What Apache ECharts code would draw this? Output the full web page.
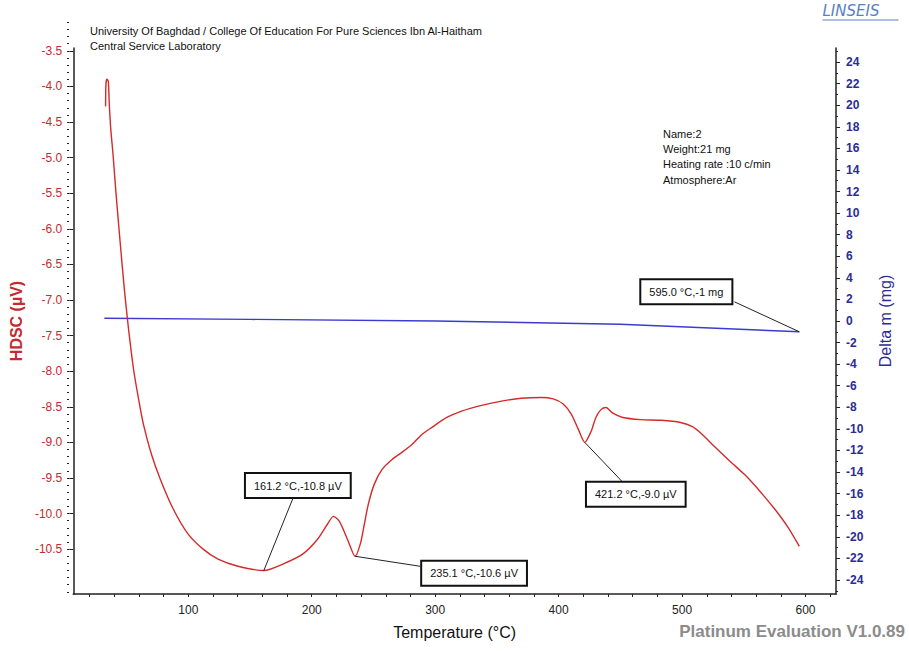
<!DOCTYPE html>
<html>
<head>
<meta charset="utf-8">
<script src="https://cdn.jsdelivr.net/npm/echarts@6/dist/echarts.min.js"></script>
<style>
  html, body { margin: 0; padding: 0; background: #ffffff; }
  #chart { width: 909px; height: 651px; }
</style>
</head>
<body>
<div id="chart"></div>
<script>
// HDSC signal (µV) against temperature (°C)
const hdscTemp = [
  33.0, 33.3, 34.2, 35.2, 36.0, 37.2, 39.0, 41.2, 44.6, 48.2, 51.6, 55.7, 59.7, 63.7,
  70.2, 77.4, 87.9, 99.9, 112.0, 124.1, 140.2, 161.2, 176.5, 192.6, 204.7, 212.7,
  217.6, 222.4, 228.9, 235.1, 239.3, 242.6, 245.8, 250.6, 257.0, 265.1, 273.1, 281.2,
  289.2, 297.3, 309.4, 321.5, 337.6, 353.7, 369.8, 386.0, 395.6, 403.7, 410.1, 415.8,
  421.2, 426.2, 430.2, 434.3, 438.3, 443.9, 452.0, 466.5, 482.6, 498.7, 508.4, 516.4,
  526.9, 539.0, 551.1, 563.2, 575.2, 585.7, 595.0
];
const hdscValue = [
  -4.28, -3.96, -3.90, -3.93, -4.25, -4.60, -4.95, -5.45, -6.15, -6.85, -7.41, -7.98, -8.39, -8.75,
  -9.17, -9.52, -9.94, -10.29, -10.50, -10.64, -10.74, -10.80, -10.71, -10.57, -10.36, -10.15,
  -10.04, -10.11, -10.36, -10.60, -10.43, -10.15, -9.87, -9.59, -9.38, -9.24, -9.14, -9.03,
  -8.89, -8.79, -8.65, -8.56, -8.48, -8.42, -8.38, -8.37, -8.39, -8.46, -8.60, -8.81,
  -9.00, -8.85, -8.65, -8.54, -8.51, -8.59, -8.65, -8.68, -8.69, -8.72, -8.78, -8.89,
  -9.07, -9.27, -9.46, -9.69, -9.94, -10.19, -10.46
];

// Mass change (mg) against temperature (°C)
const massTemp = [32.0, 150.0, 300.0, 450.0, 595.0];
const massValue = [0.25, 0.15, 0.0, -0.3, -1.0];

// Evaluated points on the HDSC curve
const peakTemp = [161.2, 235.1, 421.2];
const peakValue = [-10.8, -10.6, -9.0];
const peakText = ['161.2 °C,-10.8 µV', '235.1 °C,-10.6 µV', '421.2 °C,-9.0 µV'];

// Evaluated point on the mass curve
const massPointTemp = [595.0];
const massPointValue = [-1];
const massPointText = ['595.0 °C,-1 mg'];

// Axis tick labels
const tempTicks = [100, 200, 300, 400, 500, 600];
const hdscTicks = [-3.5, -4.0, -4.5, -5.0, -5.5, -6.0, -6.5, -7.0, -7.5, -8.0, -8.5, -9.0, -9.5, -10.0, -10.5];
const massTicks = [24, 22, 20, 18, 16, 14, 12, 10, 8, 6, 4, 2, 0, -2, -4, -6, -8, -10, -12, -14, -16, -18, -20, -22, -24];

// Sample information block
const infoLines = ['Name:2', 'Weight:21 mg', 'Heating rate :10 c/min', 'Atmosphere:Ar'];
const headerLines = [
  'University Of Baghdad / College Of Education For Pure Sciences Ibn Al-Haitham',
  'Central Service Laboratory'
];

// ---- layout and styling ----
const RED = '#d42a2a';
const RED_TEXT = '#c42a2e';
const BLUE = '#3b3bd0';
const BLUE_TEXT = '#2c2c95';
const FONT = '"Liberation Sans", Arial, sans-serif';

const X_MIN = 6.8, X_MAX = 624.7;
const L_MIN = -11.13, L_MAX = -3.46;
const R_MIN = -25.3, R_MAX = 25.3;

function steps(from, to, step) {
  const out = [];
  const n = Math.round((to - from) / step);
  for (let i = 0; i <= n; i++) out.push(+(from + i * step).toFixed(3));
  return out;
}

// offsets (px) of each callout box centre and leader end from its point
const peakLayout = [
  { bx: 34, by: -85, lx: 29, ly: -72 },
  { bx: 119, by: 17, lx: 65, ly: 10 },
  { bx: 51, by: 52, lx: 40, ly: 42 }
];
const massLayout = [
  { bx: -113, by: -40, lx: -65, ly: -30 }
];

function calloutSeries(yAxisIndex, temps, values, texts, layout) {
  return {
    type: 'custom',
    xAxisIndex: 0,
    yAxisIndex: yAxisIndex,
    z: 20,
    silent: true,
    clip: false,
    data: temps.map((t, i) => [t, values[i], i]),
    renderItem: function (params, api) {
      const i = api.value(2);
      const p = api.coord([api.value(0), api.value(1)]);
      const L = layout[i];
      return {
        type: 'group',
        children: [
          {
            type: 'line',
            shape: { x1: p[0], y1: p[1], x2: p[0] + L.lx, y2: p[1] + L.ly },
            style: { stroke: '#222', lineWidth: 1 }
          },
          {
            type: 'text',
            x: p[0] + L.bx,
            y: p[1] + L.by,
            style: {
              text: texts[i],
              font: '11px ' + FONT,
              fill: '#111',
              align: 'center',
              verticalAlign: 'middle',
              backgroundColor: '#ffffff',
              borderColor: '#111111',
              borderWidth: 2,
              padding: [6, 8, 6, 8]
            }
          }
        ]
      };
    }
  };
}

const chart = echarts.init(document.getElementById('chart'), null, { renderer: 'svg' });

const gridMain = { left: 69, right: 73, top: 48, bottom: 57 };
const gridTop = { left: 69, right: 73, top: 20, bottom: 57 };

chart.setOption({
  animation: false,
  backgroundColor: '#ffffff',
  grid: [gridMain, gridTop],
  xAxis: [
    {
      type: 'value', gridIndex: 0, min: X_MIN, max: X_MAX,
      name: 'Temperature (°C)', nameLocation: 'middle', nameGap: 30,
      nameTextStyle: { fontFamily: FONT, fontSize: 16, color: '#111' },
      axisLine: { show: true, onZero: false, lineStyle: { color: '#222', width: 1.5 } },
      axisTick: { show: true, length: 3, customValues: steps(20, 620, 20), lineStyle: { color: '#222' } },
      axisLabel: { customValues: tempTicks, margin: 10, fontFamily: FONT, fontSize: 12, color: '#222' },
      splitLine: { show: false }
    },
    {
      type: 'value', gridIndex: 1, min: X_MIN, max: X_MAX, show: false
    }
  ],
  yAxis: [
    {
      type: 'value', gridIndex: 0, position: 'left', min: L_MIN, max: L_MAX,
      name: 'HDSC (µV)', nameLocation: 'middle', nameGap: 43, nameRotate: 90,
      nameTextStyle: { fontFamily: FONT, fontSize: 16, fontWeight: 'bold', color: RED_TEXT },
      axisLine: { show: true, onZero: false, lineStyle: { color: '#222', width: 1.5 } },
      axisTick: { show: true, length: 4, customValues: hdscTicks, lineStyle: { color: '#222' } },
      axisLabel: {
        customValues: hdscTicks, margin: 11, fontFamily: FONT, fontSize: 12, color: RED_TEXT,
        formatter: v => v.toFixed(1)
      },
      splitLine: { show: false }
    },
    {
      type: 'value', gridIndex: 0, position: 'right', min: R_MIN, max: R_MAX,
      name: 'Delta m (mg)', nameLocation: 'middle', nameGap: 41, nameRotate: 90,
      nameTextStyle: { fontFamily: FONT, fontSize: 16, color: BLUE_TEXT },
      axisLine: { show: true, onZero: false, lineStyle: { color: '#222', width: 1.5 } },
      axisTick: { show: true, length: 4, customValues: massTicks, lineStyle: { color: '#222' } },
      axisLabel: { customValues: massTicks, margin: 10, fontFamily: FONT, fontSize: 12, fontWeight: 'bold', color: BLUE_TEXT },
      splitLine: { show: false }
    },
    {
      // right-axis minor ticks
      type: 'value', gridIndex: 0, position: 'right', min: R_MIN, max: R_MAX,
      axisLine: { show: false },
      axisTick: { show: true, length: 2, customValues: steps(-25, 25, 1), lineStyle: { color: '#222' } },
      axisLabel: { show: false }, splitLine: { show: false }
    },
    {
      // left-axis minor ticks, continuing above the axis line
      type: 'value', gridIndex: 1, position: 'left',
      min: L_MIN, max: L_MAX + (gridMain.top - gridTop.top) * (L_MAX - L_MIN) / (651 - gridMain.top - gridMain.bottom),
      axisLine: { show: false },
      axisTick: { show: true, length: 2, customValues: steps(-11.1, -3.1, 0.1), lineStyle: { color: '#222' } },
      axisLabel: { show: false }, splitLine: { show: false }
    }
  ],
  series: [
    {
      name: 'HDSC', type: 'line', xAxisIndex: 0, yAxisIndex: 0,
      data: hdscTemp.map((t, i) => [t, hdscValue[i]]),
      showSymbol: false, smooth: 0.25,
      lineStyle: { color: RED, width: 1.4 }, z: 5
    },
    {
      name: 'Delta m', type: 'line', xAxisIndex: 0, yAxisIndex: 1,
      data: massTemp.map((t, i) => [t, massValue[i]]),
      showSymbol: false,
      lineStyle: { color: BLUE, width: 1.4 }, z: 4
    },
    calloutSeries(0, peakTemp, peakValue, peakText, peakLayout),
    calloutSeries(1, massPointTemp, massPointValue, massPointText, massLayout)
  ],
  graphic: [
    {
      type: 'text', left: 90, top: 23,
      style: { text: headerLines.join('\n'), font: '11px ' + FONT, fill: '#111', lineHeight: 15 }
    },
    {
      type: 'text', left: 663, top: 126,
      style: { text: infoLines.join('\n'), font: '11px ' + FONT, fill: '#111', lineHeight: 15.3 }
    },
    {
      // maker logo with underline
      type: 'group', right: 8, top: 3,
      children: [
        {
          type: 'text', x: 0, y: 0,
          style: { text: 'LINSEIS', font: 'italic 15px "DejaVu Sans", sans-serif', fill: '#5a80c4' }
        },
        {
          type: 'line', shape: { x1: 0, y1: 17, x2: 76, y2: 17 },
          style: { stroke: '#5a80c4', lineWidth: 1 }
        }
      ]
    },
    {
      type: 'text', right: 4, top: 623,
      style: { text: 'Platinum Evaluation V1.0.89', font: 'bold 17px ' + FONT, fill: '#8c8c8c' }
    }
  ]
});
</script>
</body>
</html>
